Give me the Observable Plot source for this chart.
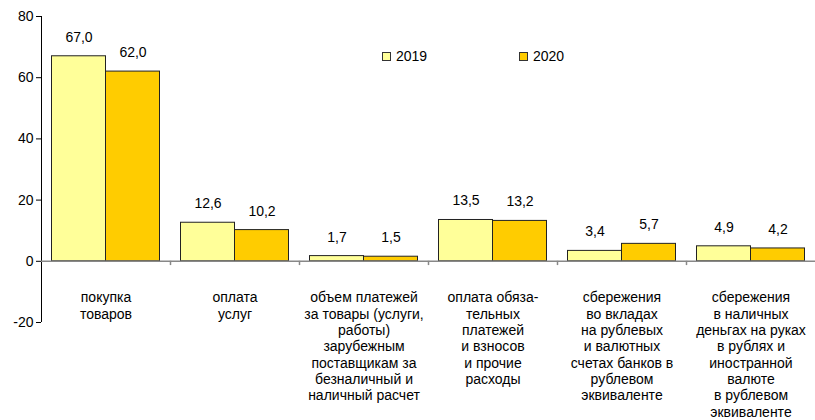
<!DOCTYPE html>
<html><head><meta charset="utf-8">
<script src="https://cdn.jsdelivr.net/npm/d3@7"></script>
<script src="https://cdn.jsdelivr.net/npm/@observablehq/plot@0.6"></script>
<style>
body{margin:0;background:#fff;}
#wrap{position:relative;width:815px;height:420px;font-family:"Liberation Sans",Arial,sans-serif;}
.lg{position:absolute;font-size:14px;color:#000;line-height:16px;}
.sq{position:absolute;width:7px;height:7px;border:1px solid #333;}
</style></head>
<body><div id="wrap"></div>
<script>
const categories = [
  "покупка\nтоваров",
  "оплата\nуслуг",
  "объем платежей\nза товары (услуги,\nработы)\nзарубежным\nпоставщикам за\nбезналичный и\nналичный расчет",
  "оплата обяза-\nтельных\nплатежей\nи взносов\nи прочие\nрасходы",
  "сбережения\nво вкладах\nна рублевых\nи валютных\nсчетах банков в\nрублевом\nэквиваленте",
  "сбережения\nв наличных\nденьгах на руках\nв рублях и\nиностранной\nвалюте\nв рублевом\nэквиваленте"
];
const series = ["2019", "2020"];
const values2019 = [67.0, 12.6, 1.7, 13.5, 3.4, 4.9];
const values2020 = [62.0, 10.2, 1.5, 13.2, 5.7, 4.2];
const yTicks = [-20, 0, 20, 40, 60, 80];
const colors = ["#FFFF99", "#FFCC00"];

const d19 = categories.map((c, i) => ({cat: c, v: values2019[i]}));
const d20 = categories.map((c, i) => ({cat: c, v: values2020[i]}));
const fmt = v => v.toFixed(1).replace(".", ",");
const W = 815, ML = 41;
const band = (W - ML) / categories.length;
const outer = 10.5, bw = (band - 2 * outer) / 2;

const chart = Plot.plot({
  width: W, height: 420,
  marginLeft: ML, marginRight: 0, marginTop: 16, marginBottom: 98,
  style: {fontFamily: "Liberation Sans, Arial, sans-serif", fontSize: "14px", color: "#000", background: "#fff"},
  x: {domain: categories, padding: 0, axis: null},
  y: {domain: [-20, 80], nice: false, axis: null},
  marks: [
    Plot.axisY({ticks: yTicks, tickSize: 5, tickPadding: 3, fontSize: 14, label: null, stroke: "#000", tickFormat: d => String(d)}),
    Plot.ruleX([categories[0]], {x: d => d, dx: -band / 2, y1: -20, y2: 80, stroke: "#000"}),
    Plot.barY(d19, {x: "cat", y: "v", fill: colors[0], stroke: "#222", strokeWidth: 1, insetLeft: outer, insetRight: outer + bw}),
    Plot.barY(d20, {x: "cat", y: "v", fill: colors[1], stroke: "#222", strokeWidth: 1, insetLeft: outer + bw, insetRight: outer}),
    Plot.ruleY([0], {stroke: "#888", strokeWidth: 1.5}),
    Plot.ruleX(categories.slice(1), {x: d => d, dx: -band / 2, y1: 0, y2: -1.4, stroke: "#888", strokeWidth: 1.5}),
    Plot.text(d19, {x: "cat", y: "v", text: d => fmt(d.v), dx: -bw / 2, dy: -19, fontSize: 14, fill: "#000"}),
    Plot.text(d20, {x: "cat", y: "v", text: d => fmt(d.v), dx: bw / 2, dy: -19, fontSize: 14, fill: "#000"}),
    Plot.text(categories, {x: d => d, frameAnchor: "bottom", lineAnchor: "top", dy: -32, lineHeight: 1.17, fontSize: 14, fill: "#000", text: d => d})
  ]
});
const wrap = document.getElementById("wrap");
wrap.appendChild(chart);
const legendPos = [[382, 396], [519, 533]];
series.forEach((s, i) => {
  const sq = document.createElement("div");
  sq.className = "sq";
  sq.style.left = legendPos[i][0] + "px";
  sq.style.top = "52px";
  sq.style.background = colors[i];
  wrap.appendChild(sq);
  const t = document.createElement("div");
  t.className = "lg";
  t.style.left = legendPos[i][1] + "px";
  t.style.top = "48px";
  t.textContent = s;
  wrap.appendChild(t);
});
</script></body></html>
